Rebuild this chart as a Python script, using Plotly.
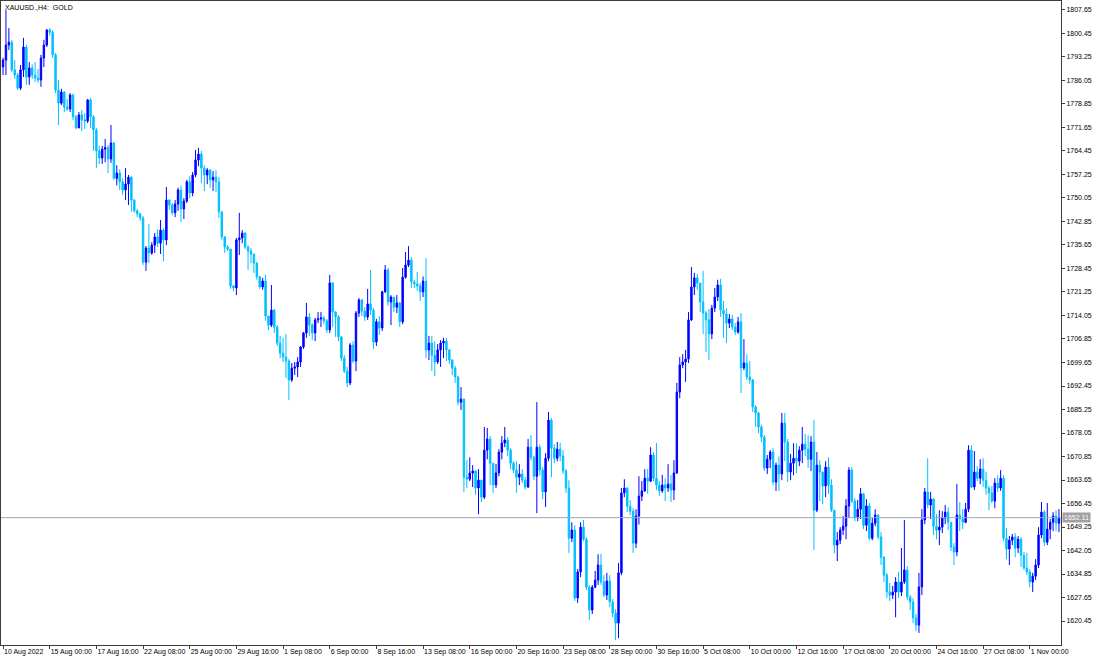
import plotly.graph_objects as go
import pandas as pd

# ---------------- data ----------------
caption = "XAUUSD.,H4:  GOLD"
bid_price = 1652.11

opens = [
    1790.2, 1792.3, 1796.9, 1797.8, 1789.3, 1787.7, 1783.7, 1789.3, 1796.3, 1787.1,
    1789.9, 1787.7, 1786.8, 1786.2, 1792.9, 1796.9, 1801.5, 1800.8, 1793.9, 1783.1,
    1779.1, 1782.5, 1777.9, 1777.3, 1781.6, 1774.9, 1771.5, 1775.5, 1774.0, 1773.6,
    1780.1, 1774.9, 1770.9, 1764.5, 1762.3, 1765.0, 1765.5, 1762.0, 1766.9, 1756.1,
    1757.7, 1755.0, 1752.5, 1754.3, 1756.4, 1749.4, 1746.1, 1745.2, 1743.9, 1730.4,
    1734.7, 1733.2, 1735.6, 1738.1, 1736.2, 1740.2, 1737.2, 1749.4, 1747.9, 1745.5,
    1748.2, 1752.5, 1746.7, 1749.1, 1755.0, 1751.6, 1757.1, 1761.7, 1763.5, 1759.2,
    1757.1, 1758.6, 1755.6, 1756.4, 1755.0, 1745.8, 1738.1, 1735.0, 1734.4, 1723.1,
    1722.5, 1737.2, 1737.8, 1739.3, 1735.0, 1733.8, 1732.9, 1730.1, 1725.9, 1722.8,
    1724.6, 1713.9, 1711.1, 1715.7, 1710.5, 1705.6, 1702.5, 1701.3, 1700.1, 1694.3,
    1697.9, 1698.3, 1699.8, 1704.4, 1708.7, 1713.6, 1711.1, 1708.7, 1712.7, 1713.0,
    1713.3, 1712.4, 1709.6, 1724.0, 1715.1, 1713.6, 1707.5, 1701.0, 1697.0, 1693.4,
    1705.0, 1700.1, 1714.8, 1718.8, 1715.4, 1713.6, 1717.6, 1715.7, 1705.9, 1712.1,
    1710.2, 1721.3, 1728.0, 1718.2, 1719.7, 1716.6, 1717.9, 1712.1, 1725.8, 1729.5,
    1731.0, 1724.3, 1723.7, 1723.1, 1721.3, 1724.6, 1703.5, 1705.6, 1701.9, 1699.8,
    1703.5, 1705.6, 1706.2, 1703.5, 1700.4, 1697.9, 1695.2, 1687.5, 1688.4, 1664.5,
    1663.9, 1665.8, 1666.4, 1661.2, 1663.6, 1658.4, 1672.8, 1676.2, 1668.8, 1662.1,
    1665.8, 1672.2, 1675.0, 1675.9, 1672.8, 1668.8, 1666.7, 1664.5, 1665.5, 1663.6,
    1661.5, 1673.7, 1670.6, 1664.8, 1673.7, 1666.7, 1660.0, 1670.3, 1682.0, 1673.4,
    1670.3, 1673.1, 1671.0, 1666.4, 1661.2, 1645.8, 1648.3, 1627.5, 1635.5, 1649.2,
    1645.5, 1630.8, 1623.8, 1630.8, 1633.0, 1637.6, 1632.4, 1628.4, 1632.7, 1626.3,
    1622.9, 1619.8, 1635.2, 1659.7, 1661.2, 1655.6, 1654.1, 1644.3, 1652.6, 1658.7,
    1660.3, 1664.2, 1663.3, 1671.3, 1664.2, 1662.1, 1660.3, 1662.1, 1661.2, 1662.4,
    1660.6, 1665.8, 1690.6, 1698.9, 1699.8, 1700.7, 1712.7, 1722.8, 1725.6, 1724.0,
    1718.2, 1714.8, 1712.7, 1708.4, 1716.3, 1719.7, 1723.4, 1715.7, 1714.5, 1711.7,
    1713.0, 1710.5, 1709.0, 1712.1, 1698.0, 1699.5, 1695.2, 1694.3, 1686.0, 1684.2,
    1679.9, 1676.8, 1667.3, 1670.0, 1672.2, 1663.0, 1668.2, 1665.5, 1681.1, 1675.3,
    1666.1, 1668.8, 1670.3, 1669.4, 1672.8, 1674.6, 1673.1, 1670.0, 1675.3, 1654.4,
    1668.2, 1666.1, 1661.8, 1667.6, 1662.1, 1654.4, 1643.7, 1645.2, 1648.3, 1649.5,
    1655.7, 1666.7, 1657.2, 1652.0, 1654.7, 1659.4, 1649.8, 1655.7, 1645.8, 1650.4,
    1652.9, 1646.2, 1640.0, 1634.5, 1629.4, 1628.4, 1629.3, 1632.4, 1629.3, 1632.4,
    1636.1, 1627.8, 1626.3, 1621.4, 1619.2, 1630.9, 1651.4, 1660.0, 1656.0, 1657.8,
    1649.5, 1648.3, 1649.2, 1652.0, 1653.8, 1650.7, 1643.1, 1641.6, 1652.9, 1651.7,
    1650.7, 1654.7, 1672.8, 1661.5, 1666.1, 1664.2, 1667.0, 1663.6, 1661.2, 1659.7,
    1657.2, 1662.7, 1661.2, 1664.2, 1645.8, 1642.5, 1645.2, 1646.2, 1642.8, 1645.5,
    1640.6, 1636.7, 1635.5, 1632.4, 1634.2, 1637.6, 1646.8, 1653.8, 1644.6, 1648.6,
    1650.7, 1652.6, 1650.4,
]

highs = [
    1793.0, 1807.6, 1802.1, 1798.5, 1792.3, 1788.4, 1790.8, 1799.1, 1797.0, 1791.7,
    1791.0, 1791.7, 1789.6, 1793.9, 1798.5, 1801.8, 1802.1, 1801.5, 1794.5, 1786.2,
    1783.5, 1782.8, 1780.4, 1782.2, 1782.0, 1775.5, 1776.4, 1777.0, 1776.0, 1780.4,
    1780.7, 1775.5, 1771.5, 1766.0, 1766.0, 1768.1, 1766.3, 1772.4, 1767.2, 1760.1,
    1758.9, 1756.1, 1759.2, 1757.1, 1756.7, 1749.7, 1746.7, 1745.5, 1744.5, 1735.3,
    1742.0, 1736.5, 1739.3, 1740.5, 1743.3, 1740.8, 1753.4, 1749.7, 1748.5, 1749.4,
    1753.2, 1753.9, 1750.0, 1755.6, 1756.7, 1758.0, 1764.8, 1765.4, 1764.5, 1760.1,
    1759.2, 1758.9, 1758.3, 1758.6, 1756.4, 1745.8, 1738.4, 1735.6, 1734.4, 1723.4,
    1737.8, 1745.5, 1740.2, 1739.6, 1735.6, 1734.7, 1732.9, 1730.4, 1726.2, 1725.6,
    1726.5, 1713.9, 1723.4, 1716.0, 1711.1, 1707.8, 1707.2, 1708.4, 1700.7, 1699.5,
    1699.8, 1701.3, 1704.7, 1709.0, 1717.9, 1714.8, 1711.7, 1713.3, 1715.1, 1715.1,
    1713.9, 1713.0, 1726.5, 1724.3, 1715.4, 1714.2, 1707.8, 1701.9, 1698.3, 1705.6,
    1706.2, 1715.4, 1719.4, 1719.1, 1716.6, 1722.2, 1728.0, 1716.3, 1713.0, 1713.9,
    1721.6, 1729.5, 1728.6, 1720.3, 1719.7, 1720.3, 1718.2, 1728.6, 1733.5, 1735.3,
    1731.9, 1725.0, 1727.4, 1724.0, 1726.0, 1731.6, 1707.8, 1707.8, 1706.2, 1705.3,
    1706.5, 1707.2, 1707.2, 1703.8, 1700.7, 1698.6, 1695.5, 1692.1, 1688.7, 1669.7,
    1670.6, 1668.2, 1666.7, 1667.0, 1661.5, 1679.9, 1679.6, 1677.1, 1668.8, 1668.5,
    1673.1, 1677.1, 1679.9, 1676.8, 1673.4, 1669.4, 1669.4, 1668.5, 1667.0, 1664.5,
    1676.2, 1677.4, 1671.0, 1687.5, 1674.5, 1667.6, 1671.9, 1684.5, 1682.6, 1674.6,
    1675.3, 1675.0, 1672.8, 1667.0, 1663.6, 1650.7, 1649.8, 1636.4, 1650.7, 1651.4,
    1646.2, 1631.5, 1631.5, 1635.8, 1640.9, 1641.0, 1634.5, 1635.2, 1634.5, 1627.2,
    1624.1, 1638.2, 1661.2, 1663.9, 1661.5, 1657.5, 1655.0, 1654.7, 1664.8, 1663.3,
    1667.0, 1667.0, 1673.7, 1672.2, 1675.0, 1663.3, 1665.2, 1664.2, 1668.5, 1665.2,
    1669.7, 1693.4, 1701.3, 1702.2, 1703.5, 1715.1, 1728.9, 1727.1, 1726.8, 1723.4,
    1727.7, 1715.4, 1716.0, 1717.3, 1722.5, 1725.0, 1725.3, 1718.5, 1716.3, 1714.5,
    1714.2, 1711.7, 1713.6, 1714.8, 1706.8, 1702.2, 1700.1, 1694.6, 1686.6, 1684.5,
    1680.5, 1677.4, 1671.3, 1672.8, 1673.4, 1669.0, 1670.9, 1684.2, 1684.2, 1676.2,
    1671.6, 1674.9, 1674.9, 1674.0, 1679.9, 1677.7, 1677.4, 1677.1, 1682.0, 1672.2,
    1669.7, 1666.1, 1669.4, 1670.6, 1663.9, 1654.4, 1647.7, 1649.2, 1652.6, 1657.8,
    1667.6, 1667.6, 1658.1, 1657.5, 1661.2, 1659.7, 1657.8, 1656.6, 1652.0, 1654.7,
    1653.2, 1647.7, 1640.3, 1635.2, 1632.1, 1631.2, 1633.9, 1635.5, 1642.8, 1651.4,
    1637.3, 1628.4, 1627.5, 1622.6, 1635.2, 1654.7, 1661.2, 1670.3, 1660.0, 1658.1,
    1653.2, 1654.4, 1654.1, 1656.0, 1655.3, 1650.7, 1644.3, 1662.4, 1656.9, 1654.7,
    1656.6, 1674.3, 1674.3, 1672.5, 1667.9, 1670.0, 1670.3, 1666.1, 1661.8, 1661.8,
    1664.2, 1665.1, 1666.7, 1665.1, 1648.9, 1646.5, 1647.1, 1647.4, 1646.5, 1646.2,
    1641.6, 1641.3, 1636.4, 1635.2, 1639.4, 1649.2, 1656.9, 1654.4, 1656.6, 1651.7,
    1653.8, 1654.4, 1654.7,
]

lows = [
    1787.7, 1787.7, 1795.4, 1788.7, 1786.5, 1783.1, 1783.1, 1787.1, 1784.7, 1784.7,
    1786.5, 1785.6, 1785.3, 1784.1, 1790.2, 1796.3, 1799.8, 1793.0, 1782.2, 1772.4,
    1778.5, 1776.4, 1776.7, 1776.4, 1773.9, 1771.2, 1771.5, 1770.5, 1771.2, 1773.0,
    1771.5, 1764.5, 1759.3, 1760.5, 1760.5, 1761.0, 1757.7, 1760.8, 1755.6, 1753.9,
    1752.5, 1751.0, 1749.4, 1747.9, 1745.8, 1745.5, 1744.2, 1743.0, 1729.5, 1727.7,
    1730.1, 1732.6, 1733.2, 1735.0, 1732.9, 1730.7, 1735.6, 1746.4, 1744.8, 1744.2,
    1746.1, 1742.7, 1743.6, 1748.5, 1750.0, 1750.6, 1756.4, 1759.8, 1754.6, 1752.2,
    1754.3, 1753.2, 1752.2, 1751.9, 1743.9, 1737.2, 1733.2, 1733.8, 1722.2, 1721.5,
    1720.3, 1732.6, 1736.2, 1734.4, 1728.0, 1730.1, 1727.1, 1725.0, 1722.2, 1721.9,
    1712.4, 1709.6, 1710.5, 1708.7, 1704.7, 1701.0, 1699.8, 1694.9, 1688.1, 1693.7,
    1695.8, 1695.2, 1698.3, 1703.8, 1707.2, 1707.8, 1706.5, 1706.2, 1711.7, 1710.5,
    1711.4, 1708.7, 1708.7, 1710.5, 1707.5, 1706.2, 1700.1, 1696.4, 1692.1, 1692.7,
    1699.5, 1697.0, 1713.6, 1713.9, 1712.4, 1712.7, 1714.2, 1703.8, 1704.7, 1708.1,
    1709.3, 1721.0, 1717.0, 1711.1, 1715.1, 1714.8, 1710.5, 1711.4, 1725.3, 1728.9,
    1722.5, 1722.5, 1721.6, 1718.5, 1719.7, 1701.0, 1700.4, 1697.0, 1695.5, 1699.2,
    1698.3, 1701.0, 1700.1, 1699.2, 1695.8, 1693.4, 1686.6, 1685.1, 1660.0, 1661.2,
    1663.3, 1661.5, 1659.1, 1653.2, 1656.9, 1657.8, 1670.0, 1662.1, 1659.7, 1661.2,
    1664.8, 1670.0, 1673.7, 1670.9, 1667.0, 1665.8, 1659.7, 1662.1, 1662.7, 1660.6,
    1661.2, 1669.7, 1663.6, 1653.5, 1665.0, 1657.8, 1655.4, 1669.4, 1664.5, 1668.8,
    1669.4, 1669.4, 1665.5, 1659.7, 1641.3, 1644.6, 1626.6, 1626.0, 1633.9, 1644.9,
    1629.9, 1620.7, 1622.6, 1630.5, 1631.5, 1631.5, 1627.8, 1626.9, 1624.7, 1621.6,
    1614.6, 1615.2, 1634.5, 1658.4, 1653.8, 1652.9, 1641.3, 1642.8, 1650.0, 1657.2,
    1660.0, 1659.4, 1663.0, 1663.3, 1660.6, 1658.7, 1659.7, 1657.2, 1660.0, 1656.9,
    1657.5, 1665.5, 1688.7, 1697.9, 1693.7, 1699.5, 1712.4, 1720.3, 1721.9, 1715.1,
    1708.4, 1702.8, 1700.4, 1706.8, 1715.1, 1718.5, 1713.6, 1707.2, 1705.6, 1710.2,
    1709.6, 1708.1, 1708.4, 1690.3, 1697.3, 1694.3, 1693.1, 1684.5, 1679.9, 1678.0,
    1675.3, 1666.4, 1665.5, 1667.3, 1662.1, 1660.3, 1660.3, 1663.6, 1669.4, 1663.0,
    1663.6, 1665.1, 1665.8, 1667.9, 1668.8, 1671.0, 1667.3, 1666.4, 1642.2, 1653.8,
    1657.2, 1656.3, 1658.4, 1659.4, 1653.8, 1641.2, 1638.8, 1644.0, 1646.8, 1645.5,
    1652.0, 1656.6, 1651.0, 1651.0, 1651.7, 1648.6, 1648.0, 1645.2, 1645.2, 1649.5,
    1645.5, 1637.6, 1632.4, 1627.5, 1626.6, 1627.2, 1621.6, 1627.5, 1628.1, 1631.8,
    1626.9, 1623.8, 1619.8, 1617.4, 1616.8, 1628.4, 1650.1, 1655.0, 1651.7, 1646.8,
    1645.5, 1643.7, 1647.4, 1650.1, 1648.3, 1641.9, 1637.6, 1640.3, 1648.0, 1648.6,
    1650.4, 1653.8, 1661.2, 1660.6, 1663.3, 1662.4, 1661.5, 1659.1, 1654.4, 1656.6,
    1655.0, 1660.0, 1660.3, 1644.9, 1639.4, 1637.6, 1643.7, 1640.0, 1641.3, 1637.0,
    1636.1, 1634.5, 1630.8, 1629.3, 1633.0, 1636.7, 1645.8, 1643.4, 1643.7, 1645.5,
    1648.0, 1648.0, 1647.7,
]

closes = [
    1792.3, 1796.9, 1797.8, 1789.3, 1787.7, 1783.7, 1789.3, 1796.3, 1787.1, 1789.9,
    1787.7, 1786.8, 1786.2, 1792.9, 1796.9, 1801.5, 1800.8, 1793.9, 1783.1, 1779.1,
    1782.5, 1777.9, 1777.3, 1781.6, 1774.9, 1771.5, 1775.5, 1774.0, 1773.6, 1780.1,
    1774.9, 1770.9, 1764.5, 1762.3, 1765.0, 1765.5, 1762.0, 1766.9, 1756.1, 1757.7,
    1755.0, 1752.5, 1754.3, 1756.4, 1749.4, 1746.1, 1745.2, 1743.9, 1730.4, 1734.7,
    1733.2, 1735.6, 1738.1, 1736.2, 1740.2, 1737.2, 1749.4, 1747.9, 1745.5, 1748.2,
    1752.5, 1746.7, 1749.1, 1755.0, 1751.6, 1757.1, 1761.7, 1763.5, 1759.2, 1757.1,
    1758.6, 1755.6, 1756.4, 1755.0, 1745.8, 1738.1, 1735.0, 1734.4, 1723.1, 1722.5,
    1737.2, 1737.8, 1739.3, 1735.0, 1733.8, 1732.9, 1730.1, 1725.9, 1722.8, 1724.6,
    1713.9, 1711.1, 1715.7, 1710.5, 1705.6, 1702.5, 1701.3, 1700.1, 1694.3, 1697.9,
    1698.3, 1699.8, 1704.4, 1708.7, 1713.6, 1711.1, 1708.7, 1712.7, 1713.0, 1713.3,
    1712.4, 1709.6, 1724.0, 1715.1, 1713.6, 1707.5, 1701.0, 1697.0, 1693.4, 1705.0,
    1700.1, 1714.8, 1718.8, 1715.4, 1713.6, 1717.6, 1715.7, 1705.9, 1712.1, 1710.2,
    1721.3, 1728.0, 1718.2, 1719.7, 1716.6, 1717.9, 1712.1, 1725.8, 1729.5, 1731.0,
    1724.3, 1723.7, 1723.1, 1721.3, 1724.6, 1703.5, 1705.6, 1701.9, 1699.8, 1703.5,
    1705.6, 1706.2, 1703.5, 1700.4, 1697.9, 1695.2, 1687.5, 1688.4, 1664.5, 1663.9,
    1665.8, 1666.4, 1661.2, 1663.6, 1658.4, 1672.8, 1676.2, 1668.8, 1662.1, 1665.8,
    1672.2, 1675.0, 1675.9, 1672.8, 1668.8, 1666.7, 1664.5, 1665.5, 1663.6, 1661.5,
    1673.7, 1670.6, 1664.8, 1673.7, 1666.7, 1660.0, 1670.3, 1682.0, 1673.4, 1670.3,
    1673.1, 1671.0, 1666.4, 1661.2, 1645.8, 1648.3, 1627.5, 1635.5, 1649.2, 1645.5,
    1630.8, 1623.8, 1630.8, 1633.0, 1637.6, 1632.4, 1628.4, 1632.7, 1626.3, 1622.9,
    1619.8, 1635.2, 1659.7, 1661.2, 1655.6, 1654.1, 1644.3, 1652.6, 1658.7, 1660.3,
    1664.2, 1663.3, 1671.3, 1664.2, 1662.1, 1660.3, 1662.1, 1661.2, 1662.4, 1660.6,
    1665.8, 1690.6, 1698.9, 1699.8, 1700.7, 1712.7, 1722.8, 1725.6, 1724.0, 1718.2,
    1714.8, 1712.7, 1708.4, 1716.3, 1719.7, 1723.4, 1715.7, 1714.5, 1711.7, 1713.0,
    1710.5, 1709.0, 1712.1, 1698.0, 1699.5, 1695.2, 1694.3, 1686.0, 1684.2, 1679.9,
    1676.8, 1667.3, 1670.0, 1672.2, 1663.0, 1668.2, 1665.5, 1681.1, 1675.3, 1666.1,
    1668.8, 1670.3, 1669.4, 1672.8, 1674.6, 1673.1, 1670.0, 1675.3, 1654.4, 1668.2,
    1666.1, 1661.8, 1667.6, 1662.1, 1654.4, 1643.7, 1645.2, 1648.3, 1649.5, 1655.7,
    1666.7, 1657.2, 1652.0, 1654.7, 1659.4, 1649.8, 1655.7, 1645.8, 1650.4, 1652.9,
    1646.2, 1640.0, 1634.5, 1629.4, 1628.4, 1629.3, 1632.4, 1629.3, 1632.4, 1636.1,
    1627.8, 1626.3, 1621.4, 1619.2, 1630.9, 1651.4, 1660.0, 1656.0, 1657.8, 1649.5,
    1648.3, 1649.2, 1652.0, 1653.8, 1650.7, 1643.1, 1641.6, 1652.9, 1651.7, 1650.7,
    1654.7, 1672.8, 1661.5, 1666.1, 1664.2, 1667.0, 1663.6, 1661.2, 1659.7, 1657.2,
    1662.7, 1661.2, 1664.2, 1645.8, 1642.5, 1645.2, 1646.2, 1642.8, 1645.5, 1640.6,
    1636.7, 1635.5, 1632.4, 1634.2, 1637.6, 1646.8, 1653.8, 1644.6, 1648.6, 1650.7,
    1652.6, 1650.4, 1652.1,
]

# x-axis: H4 bar times (weekdays only), from the first to the last bar
first_bar = "2022-08-10 08:00"
last_bar = "2022-11-02 16:00"

tick_times = [
    "2022-08-10 08:00", "2022-08-15 00:00", "2022-08-17 16:00", "2022-08-22 08:00",
    "2022-08-25 00:00", "2022-08-29 16:00", "2022-09-01 08:00", "2022-09-06 00:00",
    "2022-09-08 16:00", "2022-09-13 08:00", "2022-09-16 00:00", "2022-09-20 16:00",
    "2022-09-23 08:00", "2022-09-28 00:00", "2022-09-30 16:00", "2022-10-05 08:00",
    "2022-10-10 00:00", "2022-10-12 16:00", "2022-10-17 08:00", "2022-10-20 00:00",
    "2022-10-24 16:00", "2022-10-27 08:00", "2022-11-01 00:00",
]
tick_labels = [
    "10 Aug 2022", "15 Aug 00:00", "17 Aug 16:00", "22 Aug 08:00",
    "25 Aug 00:00", "29 Aug 16:00", "1 Sep 08:00", "6 Sep 00:00",
    "8 Sep 16:00", "13 Sep 08:00", "16 Sep 00:00", "20 Sep 16:00",
    "23 Sep 08:00", "28 Sep 00:00", "30 Sep 16:00", "5 Oct 08:00",
    "10 Oct 00:00", "12 Oct 16:00", "17 Oct 08:00", "20 Oct 00:00",
    "24 Oct 16:00", "27 Oct 08:00", "1 Nov 00:00",
]

price_tick_labels = [
    "1620.45", "1627.65", "1634.85", "1642.05", "1649.25", "1656.45", "1663.65",
    "1670.85", "1678.05", "1685.25", "1692.45", "1699.65", "1706.85", "1714.05",
    "1721.25", "1728.45", "1735.65", "1742.85", "1750.05", "1757.25", "1764.45",
    "1771.65", "1778.85", "1786.05", "1793.25", "1800.45", "1807.65",
]

# ---------------- figure ----------------
all_times = pd.date_range(first_bar, last_bar, freq="4h")
all_times = all_times[all_times.dayofweek < 5]
bar_times = all_times.strftime("%Y-%m-%d %H:%M").tolist()

UP = "#0000FF"
DOWN = "#00BFFF"
FRAME = "#3c3c3c"
FONT = "Liberation Sans, Arial, sans-serif"
FS = 7

fig = go.Figure()
fig.add_trace(go.Candlestick(
    x=bar_times, open=opens, high=highs, low=lows, close=closes,
    increasing=dict(line=dict(color=UP, width=1), fillcolor=UP),
    decreasing=dict(line=dict(color=DOWN, width=1), fillcolor=DOWN),
    whiskerwidth=0, showlegend=False, hoverinfo="skip",
))

# bid line
fig.add_shape(type="line", xref="paper", x0=0, x1=1, yref="y",
              y0=bid_price, y1=bid_price, line=dict(color="#a0a8b0", width=1))
fig.add_annotation(xref="paper", x=1, yref="y", y=bid_price, xanchor="left",
                   yanchor="middle", text=f"{bid_price:.2f}", showarrow=False,
                   bgcolor="#a0a0a0", font=dict(color="white", size=FS, family=FONT),
                   borderpad=1, xshift=1)

# caption
fig.add_annotation(xref="paper", yref="paper", x=0, y=1, xanchor="left",
                   yanchor="top", text=caption, showarrow=False,
                   font=dict(color="black", size=FS, family=FONT),
                   xshift=2, yshift=-1)

fig.update_layout(
    width=1100, height=660,
    margin=dict(l=1, r=39, t=1, b=15, autoexpand=False),
    paper_bgcolor="white", plot_bgcolor="white",
    font=dict(family=FONT, size=FS, color="black"),
    xaxis=dict(
        type="category", range=[-0.7, 362.7],
        tickmode="array", tickvals=tick_times, ticktext=tick_labels,
        ticks="outside", ticklen=3, tickcolor=FRAME, tickangle=0,
        ticklabelposition="outside right", automargin=False,
        showgrid=False, zeroline=False, showline=True, mirror=True,
        linecolor=FRAME, linewidth=1,
        rangeslider=dict(visible=False),
        tickfont=dict(size=FS, family=FONT, color="black"),
    ),
    yaxis=dict(
        side="right", range=[1613.1, 1810.4], automargin=False,
        tickmode="array", tickvals=[float(v) for v in price_tick_labels],
        ticktext=price_tick_labels,
        ticks="outside", ticklen=3, tickcolor=FRAME,
        showgrid=False, zeroline=False, showline=True, mirror=True,
        linecolor=FRAME, linewidth=1,
        tickfont=dict(size=FS, family=FONT, color="black"),
    ),
)

fig.write_html(
    "out.html",
    config={"displayModeBar": False},
    post_script="document.body.style.margin='0';document.body.style.padding='0';",
)
